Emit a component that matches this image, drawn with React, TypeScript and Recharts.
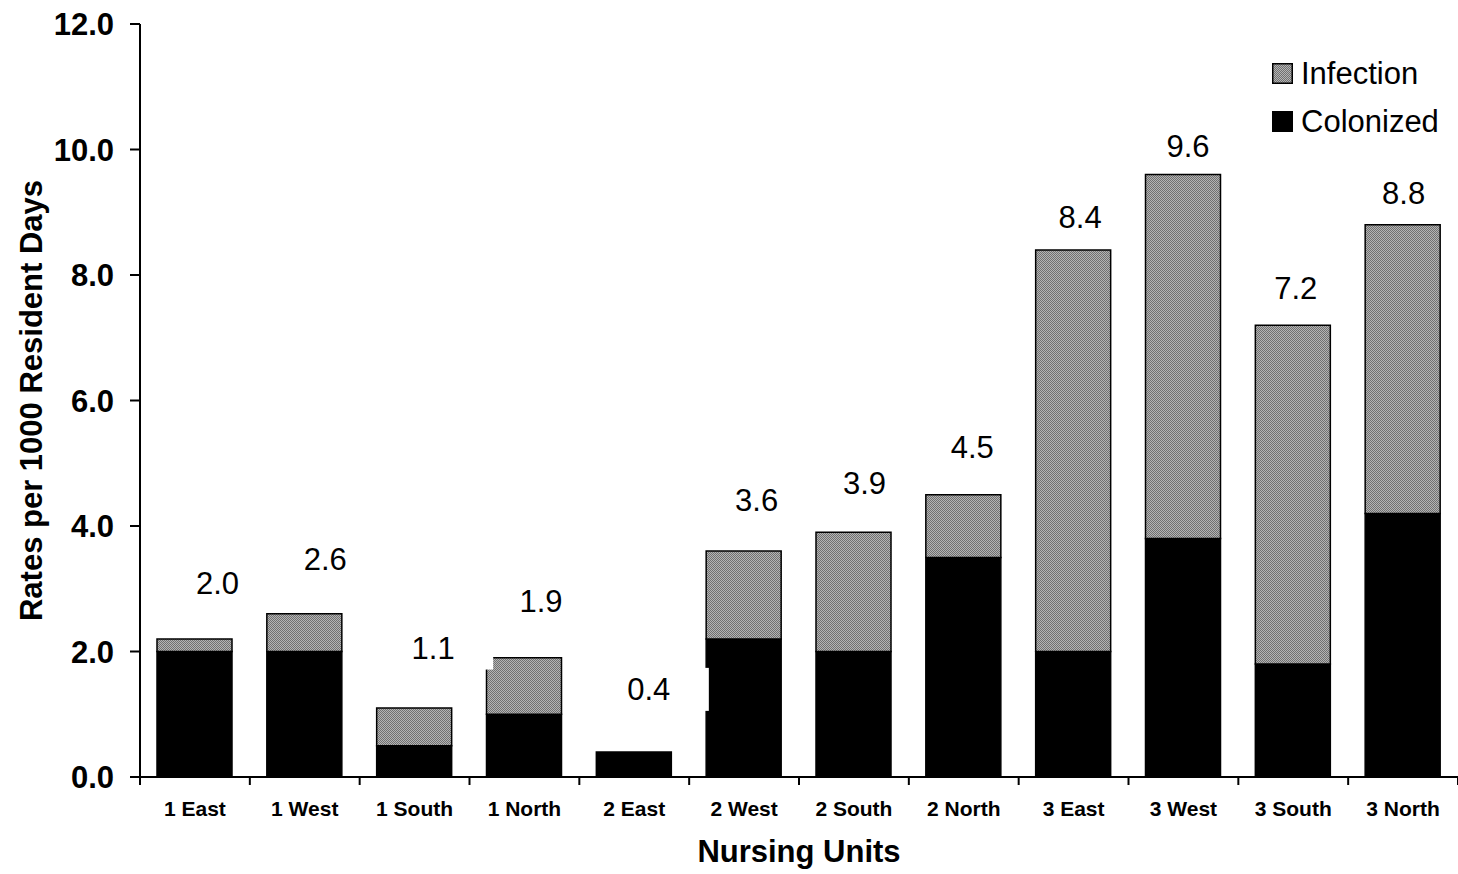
import React from 'react';
import { BarChart, Bar, XAxis, YAxis, Legend, LabelList } from 'recharts';

const units = ['1 East', '1 West', '1 South', '1 North', '2 East', '2 West', '2 South', '2 North', '3 East', '3 West', '3 South', '3 North'];
const colonized = [2.0, 2.0, 0.5, 1.0, 0.4, 2.2, 2.0, 3.5, 2.0, 3.8, 1.8, 4.2];
const infection = [0.2, 0.6, 0.6, 0.9, 0.0, 1.4, 1.9, 1.0, 6.4, 5.8, 5.4, 4.6];
const totalLabels = ['2.0', '2.6', '1.1', '1.9', '0.4', '3.6', '3.9', '4.5', '8.4', '9.6', '7.2', '8.8'];
const yTicks = [0, 2, 4, 6, 8, 10, 12];

const data = units.map((u, i) => ({ unit: u, colonized: colonized[i], infection: infection[i] }));

const FONT = '"Liberation Sans", Arial, sans-serif';

const XTick = (props: any) => {
  const { x, y, payload, index } = props;
  const off = payload && payload.offset != null ? payload.offset : 54.9;
  return (
    <g>
      <line x1={x - off} x2={x - off} y1={y} y2={y + 8} stroke="#000" strokeWidth={2} />
      {index === units.length - 1 && (
        <line x1={x + off} x2={x + off} y1={y} y2={y + 8} stroke="#000" strokeWidth={2} />
      )}
      <text x={x} y={y + 39} textAnchor="middle" fontFamily={FONT} fontWeight="bold" fontSize={21} fill="#000">
        {payload.value}
      </text>
    </g>
  );
};

// Label attached to the colonized segment; the stack top is found through the bar's own pixel scale.
const TotalLabel = (props: any) => {
  const { x, y, width, height, value } = props;
  const i = units.indexOf(value);
  if (i < 0) return null;
  const pxPerUnit = height / colonized[i];
  const top = y - infection[i] * pxPerUnit;
  const total = colonized[i] + infection[i];
  const cx = x + width / 2 + (23 - 2 * i);
  const cy = top - (64 - 3.7 * total);
  return (
    <g>
      <rect x={cx - 60} y={cy - 21.5} width={120} height={43} fill="#fff" />
      <text x={cx} y={cy} dy="0.355em" textAnchor="middle" fontFamily={FONT} fontSize={31} fill="#000">
        {totalLabels[i]}
      </text>
    </g>
  );
};

const LegendContent = () => {
  const items = [
    { name: 'Infection', fill: 'url(#legendDots)' },
    { name: 'Colonized', fill: '#000' },
  ];
  return (
    <div style={{ fontFamily: FONT, fontSize: 31, color: '#000' }}>
      {items.map((it) => (
        <div key={it.name} style={{ display: 'flex', alignItems: 'center', height: 48, lineHeight: 1 }}>
          <svg width={21} height={21} style={{ marginRight: 8, display: 'block' }}>
            <defs>
              <pattern id="legendDots" width="2" height="2" patternUnits="userSpaceOnUse">
                <rect width="2" height="2" fill="#b4b4b4" />
                <rect width="1" height="1" fill="#707070" />
                <rect x="1" y="1" width="1" height="1" fill="#707070" />
              </pattern>
            </defs>
            <rect x={0.75} y={0.75} width={19.5} height={19.5} fill={it.fill} stroke="#000" strokeWidth={1.5} />
          </svg>
          <span>{it.name}</span>
        </div>
      ))}
    </div>
  );
};

export default function App() {
  return (
    <div style={{ position: 'absolute', left: 0, top: 0, width: 1458, height: 874, background: '#fff' }}>
      <BarChart width={1458} height={874} data={data} margin={{ top: 24, right: 0, bottom: 0, left: 0 }} barSize={75}>
        <defs>
          <pattern id="infDots" width="2" height="2" patternUnits="userSpaceOnUse">
            <rect width="2" height="2" fill="#b4b4b4" />
            <rect width="1" height="1" fill="#707070" />
            <rect x="1" y="1" width="1" height="1" fill="#707070" />
          </pattern>
        </defs>
        <XAxis
          dataKey="unit"
          type="category"
          interval={0}
          height={97}
          tickSize={0}
          tickMargin={0}
          tickLine={false}
          axisLine={{ stroke: '#000', strokeWidth: 2 }}
          tick={<XTick />}
          label={(p: any) => {
            const vb = p.viewBox || { x: 140, y: 777, width: 1318, height: 97 };
            return (
              <text x={vb.x + vb.width / 2} y={vb.y + 85} textAnchor="middle" fontFamily={FONT} fontWeight="bold" fontSize={31} fill="#000">
                Nursing Units
              </text>
            );
          }}
        />
        <YAxis
          type="number"
          domain={[0, 12]}
          ticks={yTicks}
          interval={0}
          width={140}
          tickSize={10}
          tickMargin={16}
          tickFormatter={(v: number) => v.toFixed(1)}
          tick={{ fontFamily: FONT, fontWeight: 'bold', fontSize: 31, fill: '#000' }}
          tickLine={{ stroke: '#000', strokeWidth: 2 }}
          axisLine={{ stroke: '#000', strokeWidth: 2 }}
          label={(p: any) => {
            const vb = p.viewBox || { x: 0, y: 24, width: 140, height: 753 };
            const cx = vb.x + 31;
            const cy = vb.y + vb.height / 2;
            return (
              <text x={cx} y={cy} dy="0.355em" textAnchor="middle" transform={`rotate(-90 ${cx} ${cy})`} fontFamily={FONT} fontWeight="bold" fontSize={31} fill="#000">
                Rates per 1000 Resident Days
              </text>
            );
          }}
        />
        <Legend
          verticalAlign="middle"
          align="center"
          layout="vertical"
          content={<LegendContent />}
          wrapperStyle={{ position: 'absolute', left: 1272, top: 49, width: 'auto', height: 'auto' }}
        />
        <Bar dataKey="colonized" stackId="a" fill="#000" stroke="#000" strokeWidth={1.5} isAnimationActive={false}>
          <LabelList dataKey="unit" content={<TotalLabel />} />
        </Bar>
        <Bar dataKey="infection" stackId="a" fill="url(#infDots)" stroke="#000" strokeWidth={1.5} isAnimationActive={false} />
      </BarChart>
    </div>
  );
}
